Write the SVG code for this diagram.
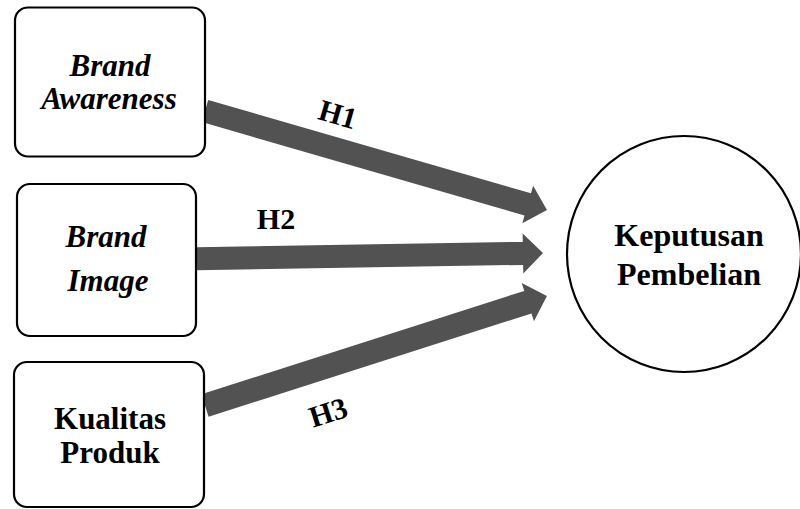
<svg xmlns="http://www.w3.org/2000/svg" width="800" height="509" viewBox="0 0 800 509">
<style>
.box{fill:#fff;stroke:#000;stroke-width:2.2}
.arrow{fill:#525252}
.t{font-family:"Liberation Serif","Times New Roman",serif;font-weight:bold;font-size:31px;fill:#000;text-anchor:middle}
.i{font-style:italic}
.lbl{font-family:"Liberation Serif","Times New Roman",serif;font-weight:bold;font-size:30px;fill:#000;text-anchor:middle}
</style>
<rect width="800" height="509" fill="#fff"/>
<g id="connectors">
<polygon class="arrow" points="0,-11.5 336,-11.5 336,-19.5 356,0 336,19.5 336,11.5 0,11.5" transform="translate(205,111) rotate(16.14)"/>
<polygon class="arrow" points="0,-11.5 327,-11.5 327,-20 347,0 327,20 327,11.5 0,11.5" transform="translate(196,258.8) rotate(-0.95)"/>
<polygon class="arrow" points="0,-11.8 339,-11.8 339,-20 359,0 339,20 339,11.8 0,11.8" transform="translate(205,405.5) rotate(-17.75)"/>
<text class="lbl" transform="translate(338,114) rotate(16.14)" x="0" y="10.5">H1</text>
<text class="lbl" x="276" y="229">H2</text>
<text class="lbl" transform="translate(328,412) rotate(-17.75)" x="0" y="10.5">H3</text>
</g>
<g id="brand-awareness">
<rect class="box" x="15" y="7.5" width="190" height="149" rx="13"/>
<text class="t i" x="110" y="76">Brand</text>
<text class="t i" x="109" y="109">Awareness</text>
</g>
<g id="brand-image">
<rect class="box" x="17" y="184" width="179" height="152" rx="13"/>
<text class="t i" x="106" y="247">Brand</text>
<text class="t i" x="108" y="291">Image</text>
</g>
<g id="kualitas-produk">
<rect class="box" x="14" y="362" width="190" height="145" rx="13"/>
<text class="t" x="110" y="429">Kualitas</text>
<text class="t" x="110" y="463">Produk</text>
</g>
<g id="keputusan-pembelian">
<ellipse class="box" cx="684" cy="254" rx="117" ry="118"/>
<text class="t" style="font-size:32px" x="689" y="246">Keputusan</text>
<text class="t" style="font-size:32px" x="689" y="285">Pembelian</text>
</g>
</svg>
